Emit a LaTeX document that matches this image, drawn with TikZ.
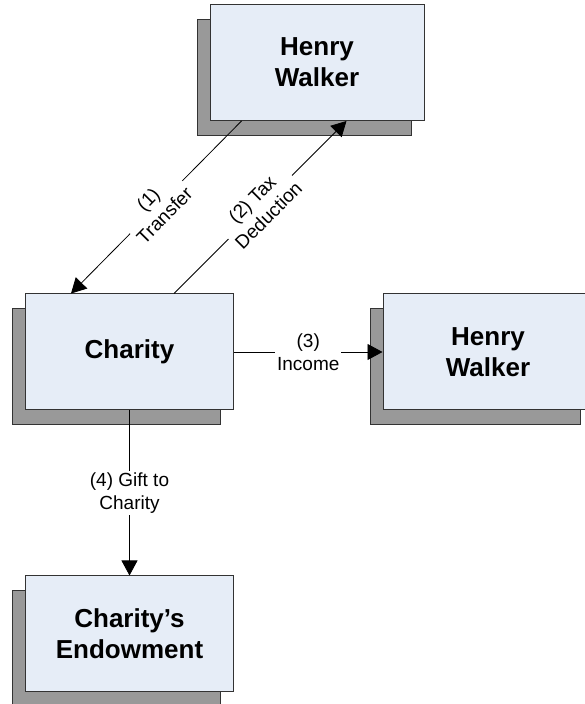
\documentclass[tikz,border=0pt]{standalone}
\usepackage{fontspec}
\setmainfont{Liberation Sans}
\usetikzlibrary{arrows.meta,shadows}
\definecolor{boxblue}{RGB}{230,237,247}
\definecolor{shadowgray}{RGB}{153,153,153}
\tikzset{
  party/.style={draw=black!80,line width=1pt,fill=boxblue,align=center,
    minimum width=208pt,minimum height=116pt,inner sep=2pt,
    font=\bfseries\fontsize{26}{31}\selectfont,
    copy shadow={shadow xshift=-13pt,shadow yshift=-15pt,fill=shadowgray,draw=black!80,line width=1pt}},
  flow/.style={draw,line width=0.8pt,-{Triangle[length=15pt,width=16pt]}},
  flowlabel/.style={fill=white,align=center,inner sep=2pt,
    font=\fontsize{19}{23}\selectfont}
}

\begin{document}
\begin{tikzpicture}[x=1pt,y=1pt]
  \useasboundingbox (0,0) rectangle (584,704);
  \node[party,minimum width=214pt] (donor) at (317,641.5) {Henry\\Walker};
  \node[party] (charity) at (129.5,352) {Charity};
  \node[party,minimum width=210pt] (annuitant) at (488,352) {Henry\\Walker};
  \node[party] (endowment) at (129.5,70) {Charity's\\Endowment};
  % flows between the parties
  \draw[flow] ([xshift=32pt]donor.south west) -- ([xshift=46pt]charity.north west)
    node[flowlabel,midway,sloped] {(1)\\Transfer};
  \draw[flow] ([xshift=149pt]charity.north west) -- ([xshift=137pt]donor.south west)
    node[flowlabel,midway,sloped] {(2) Tax\\Deduction};
  \draw[flow] (charity.east) -- (annuitant.west)
    node[flowlabel,midway] {(3)\\Income};
  \draw[flow] (charity.south) -- (endowment.north)
    node[flowlabel,midway] {(4) Gift to\\Charity};
\end{tikzpicture}
\end{document}
